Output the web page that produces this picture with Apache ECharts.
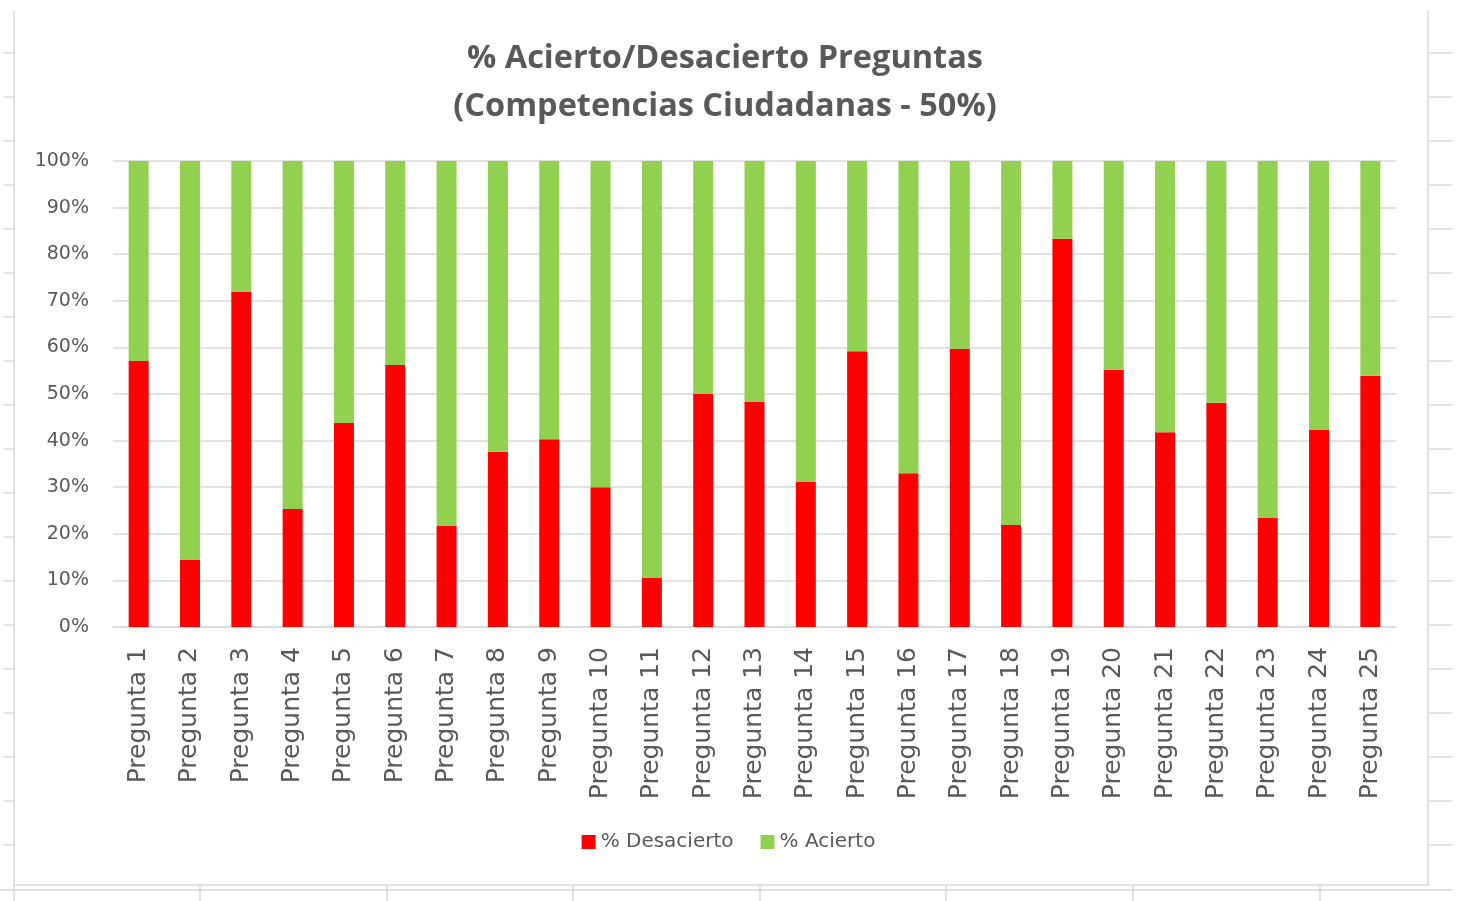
<!DOCTYPE html>
<html>
<head>
<meta charset="utf-8">
<script src="https://cdn.jsdelivr.net/npm/echarts@6/dist/echarts.min.js"></script>
<style>
html, body { margin: 0; padding: 0; background: #fff; }
#chart { width: 1457px; height: 901px; }
</style>
</head>
<body>
<div id="chart"></div>
<script>
// data
var categories = [];
for (var i = 1; i <= 25; i++) categories.push('Pregunta ' + i);

var desacierto = [57.1, 14.4, 71.9, 25.3, 43.8, 56.2, 21.7, 37.6, 40.3, 30.0,
	10.5, 50.0, 48.3, 31.1, 59.2, 33.0, 59.7, 21.9, 83.3, 55.2,
	41.8, 48.1, 23.4, 42.3, 53.9];
var acierto = desacierto.map(function (v) { return +(100 - v).toFixed(1); });

var seriesNames = ['% Desacierto', '% Acierto'];
var titleLines = ['% Acierto/Desacierto Preguntas', '(Competencias Ciudadanas - 50%)'];

var titleFont = 'Open Sans';
var font = 'DejaVu Sans';
var textColor = '#595959';

// spreadsheet lines behind the chart
var sheet = [];
var lineStyle = { stroke: '#d9d9d9', lineWidth: 1.5 };
for (var y = 53; y < 885; y += 44) {
	sheet.push({ type: 'line', shape: { x1: 4, y1: y, x2: 14, y2: y }, style: lineStyle, silent: true });
	sheet.push({ type: 'line', shape: { x1: 1428, y1: y, x2: 1452, y2: y }, style: lineStyle, silent: true });
}
[200, 387, 573, 760, 946, 1133, 1320].forEach(function (x) {
	sheet.push({ type: 'line', shape: { x1: x, y1: 885, x2: x, y2: 901 }, style: lineStyle, silent: true });
});
sheet.push({ type: 'line', shape: { x1: 14, y1: 10, x2: 14, y2: 901 }, style: lineStyle, silent: true });
sheet.push({ type: 'line', shape: { x1: 1428, y1: 10, x2: 1428, y2: 886 }, style: lineStyle, silent: true });
sheet.push({ type: 'line', shape: { x1: 14, y1: 885, x2: 1428, y2: 885 }, style: lineStyle, silent: true });
sheet.push({ type: 'line', shape: { x1: 0, y1: 890, x2: 1452, y2: 890 }, style: lineStyle, silent: true });

var dom = document.getElementById('chart');
var myChart = echarts.init(dom, null, { renderer: 'canvas' });

var option = {
	animation: false,
	backgroundColor: '#fff',
	graphic: sheet,
	title: {
		text: titleLines.join('\n'),
		left: 720,
		textAlign: 'center',
		top: 30,
		textStyle: {
			fontFamily: titleFont,
			fontWeight: 'bold',
			fontSize: 32.5,
			lineHeight: 48,
			color: textColor
		}
	},
	legend: {
		data: seriesNames,
		bottom: 44,
		left: 'center',
		itemWidth: 14,
		itemHeight: 14,
		itemGap: 27,
		icon: 'rect',
		textStyle: { fontFamily: font, fontSize: 20, color: textColor }
	},
	grid: {
		left: 113,
		right: 61,
		top: 161,
		bottom: 274,
		containLabel: false
	},
	xAxis: {
		type: 'category',
		data: categories,
		axisLine: { lineStyle: { color: '#d9d9d9', width: 1.5 } },
		axisTick: { show: false },
		axisLabel: {
			rotate: 90,
			margin: 20,
			interval: 0,
			fontFamily: font,
			fontSize: 25,
			color: textColor
		}
	},
	yAxis: {
		type: 'value',
		min: 0,
		max: 100,
		interval: 10,
		axisLine: { show: false },
		axisTick: { show: false },
		splitLine: { lineStyle: { color: '#d9d9d9', width: 1.5 } },
		axisLabel: {
			formatter: '{value}%',
			margin: 24,
			fontFamily: font,
			fontSize: 19,
			color: textColor
		}
	},
	series: [{
		name: seriesNames[0],
		type: 'bar',
		stack: 'total',
		barWidth: 20,
		itemStyle: { color: '#ff0000' },
		data: desacierto
	}, {
		name: seriesNames[1],
		type: 'bar',
		stack: 'total',
		barWidth: 20,
		itemStyle: { color: '#92d050' },
		data: acierto
	}]
};

myChart.setOption(option);
</script>
</body>
</html>
